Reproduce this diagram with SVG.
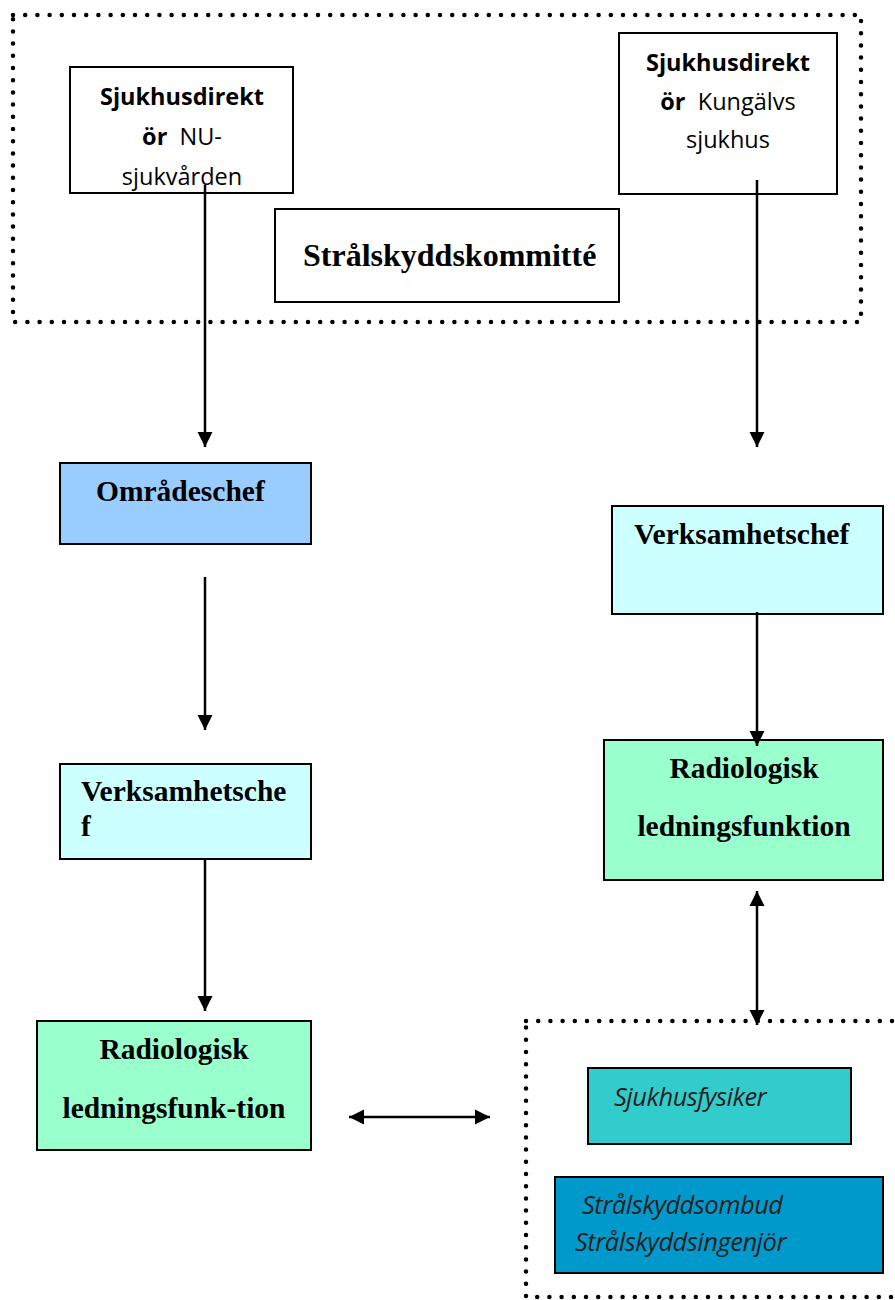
<svg xmlns="http://www.w3.org/2000/svg" width="895" height="1300" viewBox="0 0 895 1300">
<style>
.box{stroke:#000;stroke-width:2}
.dots{fill:none;stroke:#000;stroke-width:4.5;stroke-dasharray:0 12.2;stroke-linecap:round}
.sans{font-family:"Open Sans","Liberation Sans",sans-serif;font-size:23.5px;fill:#000}
.serif{font-family:"Liberation Serif","Times New Roman",serif;font-weight:bold;font-size:29.5px;fill:#000}
.big{font-size:32px}
.ital{font-family:"Open Sans","Liberation Sans",sans-serif;font-style:italic;font-size:25.5px;fill:#231F20;letter-spacing:-0.5px}
.conn{stroke:#000;stroke-width:2.5;fill:none}
</style>
<defs>
<marker id="ah" viewBox="0 0 10 10" refX="10" refY="5" markerWidth="6" markerHeight="6.2" orient="auto-start-reverse" markerUnits="strokeWidth">
<path d="M0,0 L10,5 L0,10 Z" fill="#000"/>
</marker>
<clipPath id="clipNU"><rect x="71" y="68" width="221" height="124"/></clipPath>
</defs>
<rect width="895" height="1300" fill="#fff"/>

<g id="group-top">
<rect class="dots" x="13" y="15" width="848" height="307"/>
</g>
<g id="group-bottom">
<rect class="dots" x="526" y="1021" width="380" height="276"/>
</g>

<g id="node-nu">
<rect class="box" x="70" y="67" width="223" height="126" fill="#fff"/>
<g clip-path="url(#clipNU)">
<text class="sans" x="182" y="105" text-anchor="middle" font-weight="bold">Sjukhusdirekt</text>
<text class="sans" x="182" y="145" text-anchor="middle"><tspan font-weight="bold">ör</tspan>&#160; NU-</text>
<text class="sans" x="182" y="185" text-anchor="middle">sjukvården</text>
</g>
</g>

<g id="node-kungalv">
<rect class="box" x="619" y="33" width="218" height="161" fill="#fff"/>
<text class="sans" x="728" y="71" text-anchor="middle" font-weight="bold">Sjukhusdirekt</text>
<text class="sans" x="728" y="110" text-anchor="middle"><tspan font-weight="bold">ör</tspan>&#160; Kungälvs</text>
<text class="sans" x="728" y="148" text-anchor="middle">sjukhus</text>
</g>

<g id="node-kommitte">
<rect class="box" x="275" y="209" width="344" height="93" fill="#fff"/>
<text class="serif big" x="303" y="266">Strålskyddskommitté</text>
</g>

<g id="node-omradeschef">
<rect class="box" x="60" y="463" width="251" height="81" fill="#99CCFF"/>
<text class="serif" x="96" y="501">Områdeschef</text>
</g>

<g id="node-vc-left">
<rect class="box" x="60" y="764" width="251" height="95" fill="#CCFFFF"/>
<text class="serif" x="81" y="801">Verksamhetsche</text>
<text class="serif" x="81" y="836">f</text>
</g>

<g id="node-rl-left">
<rect class="box" x="37" y="1021" width="274" height="129" fill="#99FFCC"/>
<text class="serif" x="174" y="1059" text-anchor="middle">Radiologisk</text>
<text class="serif" x="174" y="1118" text-anchor="middle">ledningsfunk-tion</text>
</g>

<g id="node-vc-right">
<rect class="box" x="612" y="506" width="271" height="108" fill="#CCFFFF"/>
<text class="serif" x="634" y="544">Verksamhetschef</text>
</g>

<g id="node-rl-right">
<rect class="box" x="604" y="740" width="279" height="140" fill="#99FFCC"/>
<text class="serif" x="744" y="778" text-anchor="middle">Radiologisk</text>
<text class="serif" x="744" y="836" text-anchor="middle">ledningsfunktion</text>
</g>

<g id="node-fysiker">
<rect class="box" x="588" y="1068" width="263" height="76" fill="#33CCCC"/>
<text class="ital" x="614" y="1106">Sjukhusfysiker</text>
</g>

<g id="node-ombud">
<rect class="box" x="555" y="1177" width="328" height="96" fill="#0099CC"/>
<text class="ital" x="582" y="1214">Strålskyddsombud</text>
<text class="ital" x="575" y="1251">Strålskyddsingenjör</text>
</g>

<g id="connectors">
<line class="conn" x1="205" y1="185" x2="205" y2="447" marker-end="url(#ah)"/>
<line class="conn" x1="757" y1="180" x2="757" y2="447" marker-end="url(#ah)"/>
<line class="conn" x1="205" y1="577" x2="205" y2="730" marker-end="url(#ah)"/>
<line class="conn" x1="205" y1="859" x2="205" y2="1011" marker-end="url(#ah)"/>
<line class="conn" x1="757" y1="612" x2="757" y2="746" marker-end="url(#ah)"/>
<line class="conn" x1="757" y1="891" x2="757" y2="1025" marker-start="url(#ah)" marker-end="url(#ah)"/>
<line class="conn" x1="349" y1="1117" x2="490" y2="1117" marker-start="url(#ah)" marker-end="url(#ah)"/>
</g>
</svg>
